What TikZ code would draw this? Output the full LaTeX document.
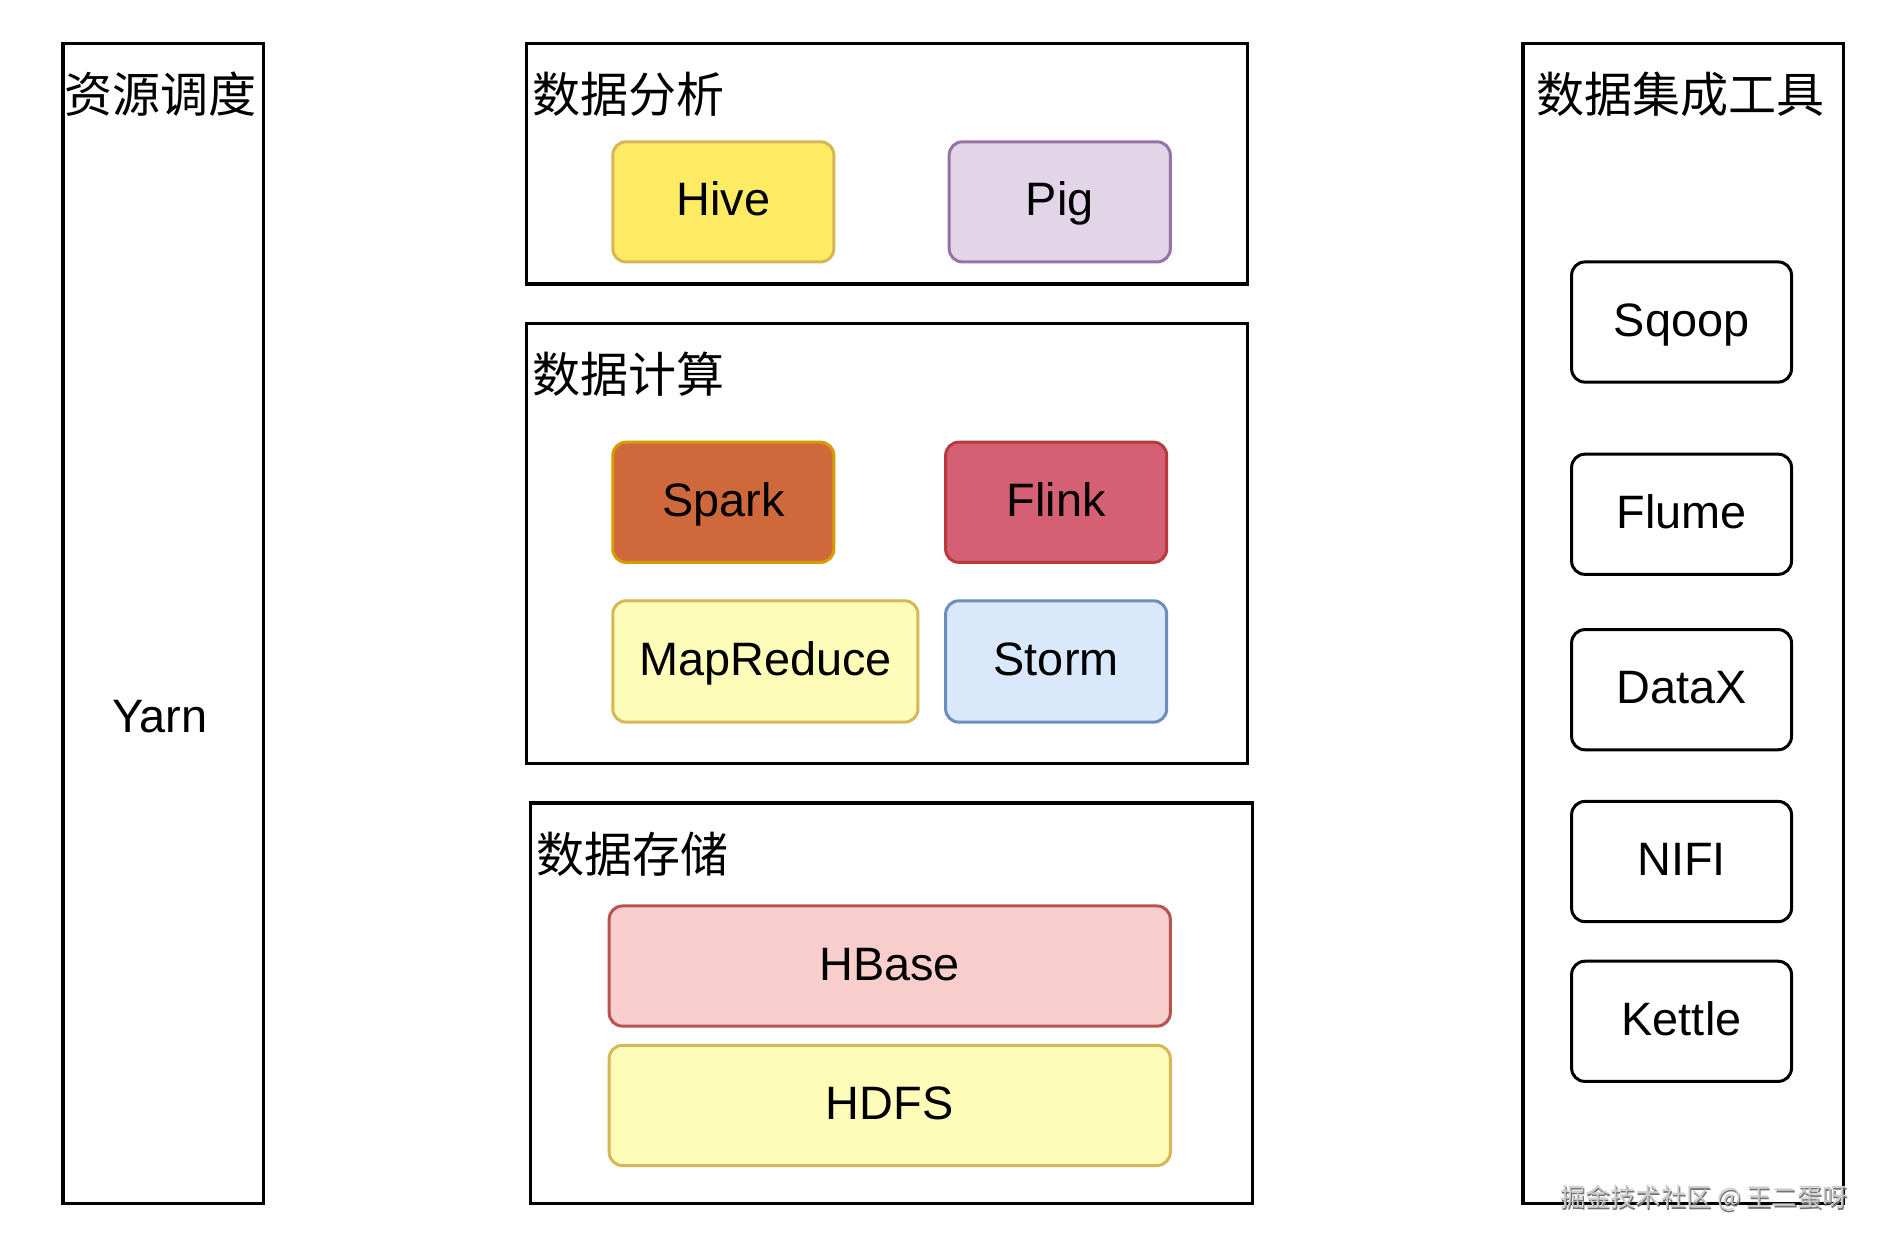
\documentclass[tikz,border=0pt]{standalone}
\usepackage{fontspec}
\setmainfont{Liberation Sans}
\newfontfamily\cjk{Noto Sans CJK SC}
\definecolor{hivefill}{HTML}{FCEB63}
\definecolor{yelstroke}{HTML}{D6B656}
\definecolor{pigfill}{HTML}{E1D5E7}
\definecolor{pigstroke}{HTML}{9673A6}
\definecolor{sparkfill}{HTML}{CF693B}
\definecolor{sparkstroke}{HTML}{D79B00}
\definecolor{flinkfill}{HTML}{D66073}
\definecolor{flinkstroke}{HTML}{B83A3C}
\definecolor{paleyel}{HTML}{FDFCB9}
\definecolor{stormfill}{HTML}{DAE8FC}
\definecolor{stormstroke}{HTML}{6C8EBF}
\definecolor{hbasefill}{HTML}{F8CECC}
\definecolor{hbasestroke}{HTML}{B85450}
\begin{document}
\begin{tikzpicture}[x=0.5pt,y=-0.5pt,
  container/.style={draw=black, line width=1.4pt, fill=white, rectangle, anchor=north west, inner sep=0pt},
  comp/.style={draw, line width=1.25pt, rounded corners=5.5pt, rectangle, inner sep=0pt,
    minimum width=92pt, minimum height=50pt, font=\fontsize{19.5pt}{23pt}\selectfont,
    text height=14.6pt, text depth=2.9pt},
  tool/.style={comp, draw=black, fill=white, minimum width=91.5pt},
  title/.style={inner sep=0pt, font=\cjk\fontsize{20pt}{24pt}\selectfont},
  plain/.style={inner sep=0pt, font=\fontsize{19.5pt}{23pt}\selectfont, text height=14.6pt, text depth=2.9pt},
  wm/.style={inner sep=0pt, font=\cjk\fontsize{10.5pt}{12pt}\selectfont}
]
\useasboundingbox (0,0) rectangle (1568,1035);
\fill[white] (0,0) rectangle (1568,1035);

% containers
\node[container, minimum width=83.5pt, minimum height=482.5pt] (res) at (51,35) {};
\node[container, minimum width=300pt, minimum height=100pt] (ana) at (437,35) {};
\node[container, minimum width=300pt, minimum height=183pt] (cmp) at (437,268) {};
\node[container, minimum width=300.5pt, minimum height=166.5pt] (sto) at (440,667) {};
\node[container, minimum width=133.5pt, minimum height=482.5pt] (integ) at (1266,35) {};

% titles
\node[title, anchor=base] (resT) at (133.5,94) {资源调度};
\node[title, anchor=base west] (anaT) at (443,94) {数据分析};
\node[title, anchor=base west] (cmpT) at (443,327) {数据计算};
\node[title, anchor=base west] (stoT) at (446,726) {数据存储};
\node[title, anchor=base] (integT) at (1398.5,94) {数据集成工具};

\node[plain] (yarn) at (133,598) {Yarn};

% analysis
\node[comp, fill=hivefill, draw=yelstroke] (hive) at (602,168) {Hive};
\node[comp, fill=pigfill, draw=pigstroke] (pig) at (882,168) {Pig};

% compute
\node[comp, fill=sparkfill, draw=sparkstroke] (spark) at (602,418) {Spark};
\node[comp, fill=flinkfill, draw=flinkstroke] (flink) at (879,418) {Flink};
\node[comp, fill=paleyel, draw=yelstroke, minimum width=127pt, minimum height=50.5pt] (mr) at (637,550.5) {MapReduce};
\node[comp, fill=stormfill, draw=stormstroke, minimum height=50.5pt] (storm) at (879,550.5) {Storm};

% storage
\node[comp, fill=hbasefill, draw=hbasestroke, minimum width=233.5pt] (hbase) at (740.5,804) {HBase};
\node[comp, fill=paleyel, draw=yelstroke, minimum width=233.5pt] (hdfs) at (740.5,920) {HDFS};

% integration tools
\node[tool] (sqoop) at (1399.5,268) {Sqoop};
\node[tool] (flume) at (1399.5,428) {Flume};
\node[tool] (datax) at (1399.5,574) {DataX};
\node[tool] (nifi) at (1399.5,717) {NIFI};
\node[tool] (kettle) at (1399.5,850) {Kettle};

% watermark
\node[wm, text=black!55, anchor=west] (wmS) at (1299,998.5) {掘金技术社区 @ 王二蛋呀};
\node[wm, text=black!20, anchor=west] (wm) at (1298,997) {掘金技术社区 @ 王二蛋呀};
\end{tikzpicture}
\end{document}
